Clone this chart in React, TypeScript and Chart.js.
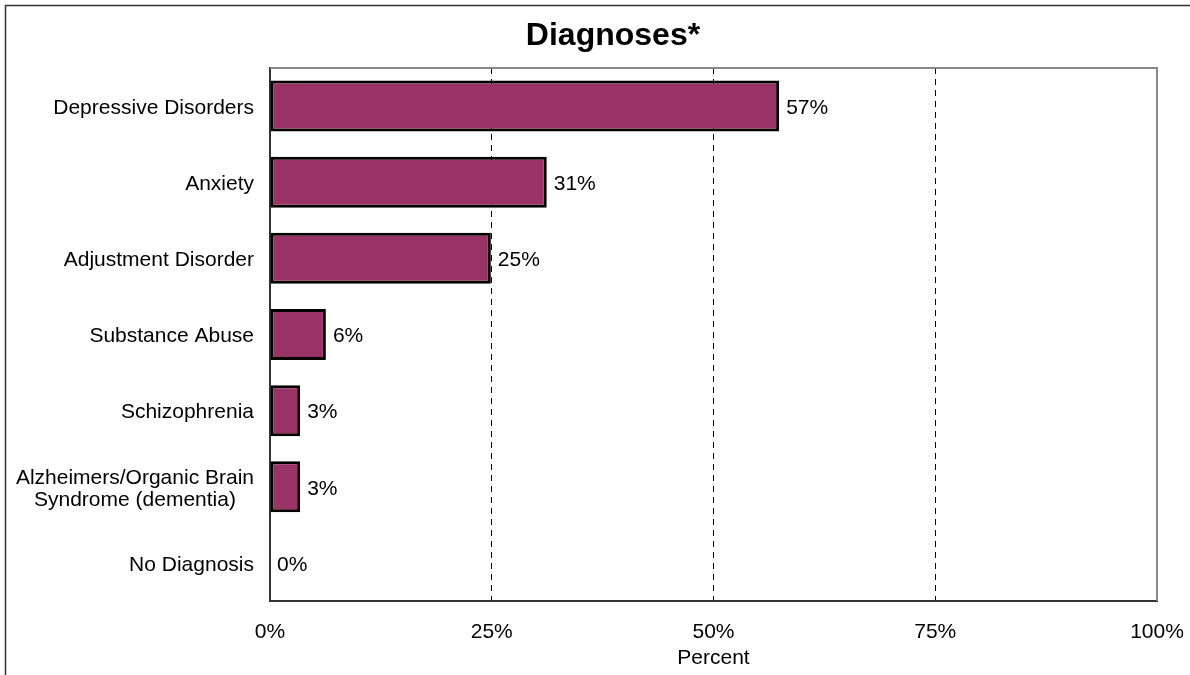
import React, { useEffect, useRef } from 'react';
import { Chart, registerables } from 'chart.js';

Chart.register(...registerables);

const categories: (string | string[])[] = [
  'Depressive Disorders',
  'Anxiety',
  'Adjustment Disorder',
  'Substance Abuse',
  'Schizophrenia',
  ['Alzheimers/Organic Brain', 'Syndrome (dementia)'],
  'No Diagnosis',
];
const values = [57.4, 31.2, 24.9, 6.3, 3.4, 3.4, 0];
const valueLabels = ['57%', '31%', '25%', '6%', '3%', '3%', '0%'];
const xTickValues = [0, 25, 50, 75, 100];
const titleText = 'Diagnoses*';

const FONT = '"Liberation Sans", Arial, sans-serif';

export default function App() {
  const ref = useRef<HTMLCanvasElement>(null);

  useEffect(() => {
    if (!ref.current) return;
    const decor = {
      id: 'decor',
      beforeDraw(chart: any) {
        const ctx = chart.ctx;
        ctx.save();
        ctx.strokeStyle = '#333';
        ctx.lineWidth = 1.5;
        ctx.beginPath();
        ctx.moveTo(5.5, 675);
        ctx.lineTo(5.5, 5.5);
        ctx.lineTo(1190, 5.5);
        ctx.stroke();
        ctx.restore();
      },
      afterDraw(chart: any) {
        const ctx = chart.ctx;
        const a = chart.chartArea;
        ctx.save();
        ctx.strokeStyle = '#888';
        ctx.lineWidth = 2;
        ctx.beginPath();
        ctx.moveTo(a.left, a.top);
        ctx.lineTo(a.right, a.top);
        ctx.lineTo(a.right, a.bottom);
        ctx.stroke();

        // title
        ctx.fillStyle = '#000';
        ctx.textBaseline = 'middle';
        ctx.textAlign = 'center';
        ctx.font = `bold 32px ${FONT}`;
        ctx.fillText(titleText, 613, 36);

        // category labels
        const ys = chart.scales.y;
        ctx.font = `21px ${FONT}`;
        categories.forEach((lab, i) => {
          const lines = Array.isArray(lab) ? lab : [lab];
          const cy = ys.getPixelForValue(i) + 2;
          const maxW = Math.max(...lines.map((l) => ctx.measureText(l).width));
          const right = a.left - 16;
          const lh = 22;
          lines.forEach((l, j) => {
            const ly = cy + (j - (lines.length - 1) / 2) * lh;
            ctx.fillText(l, right - maxW / 2, ly);
          });
        });

        // value labels
        const meta = chart.getDatasetMeta(0);
        ctx.textAlign = 'left';
        meta.data.forEach((el: any, i: number) => {
          ctx.fillText(valueLabels[i], el.x + 7, el.y + 2);
        });
        ctx.restore();
      },
    };

    const chart = new Chart(ref.current, {
      type: 'bar',
      data: {
        labels: categories as any,
        datasets: [
          {
            data: values,
            backgroundColor: '#993366',
            borderColor: '#000',
            borderWidth: 3,
            borderSkipped: false,
            barPercentage: 0.67,
            categoryPercentage: 1,
          },
        ],
      },
      options: {
        indexAxis: 'y',
        animation: false,
        responsive: false,
        devicePixelRatio: 1,
        layout: { padding: { top: 68, right: 33, bottom: 0, left: 0 } },
        plugins: {
          legend: { display: false },
          tooltip: { enabled: false },
          title: { display: false },
        },
        scales: {
          x: {
            type: 'linear',
            min: 0,
            max: 100,
            afterBuildTicks(scale: any) {
              scale.ticks = xTickValues.map((v) => ({ value: v }));
            },
            afterFit(scale: any) {
              scale.height = 74;
              scale.paddingLeft = 0;
              scale.paddingRight = 0;
            },
            ticks: {
              color: '#000',
              font: { family: FONT, size: 21 },
              padding: 19,
              maxRotation: 0,
              callback: (v: any) => `${v}%`,
            },
            grid: {
              drawTicks: false,
              color: (c: any) => (c.tick && (c.tick.value === 0 || c.tick.value === 100) ? 'rgba(0,0,0,0)' : '#000'),
              lineWidth: 1,
            },
            border: { display: true, color: '#333', width: 2, dash: [6, 5] },
            title: {
              display: true,
              text: 'Percent',
              color: '#000',
              font: { family: FONT, size: 21 },
              padding: { top: 4, bottom: 4 },
            },
          },
          y: {
            type: 'category',
            afterFit(scale: any) {
              scale.width = 270;
            },
            ticks: { display: false },
            grid: { display: false, drawTicks: false },
            border: { display: true, color: '#333', width: 2 },
          },
        },
      },
      plugins: [decor],
    });
    return () => chart.destroy();
  }, []);

  return (
    <div style={{ position: 'fixed', left: 0, top: 0, width: 1190, height: 675, background: '#fff' }}>
      <canvas ref={ref} width={1190} height={675} style={{ display: 'block' }} />
    </div>
  );
}
